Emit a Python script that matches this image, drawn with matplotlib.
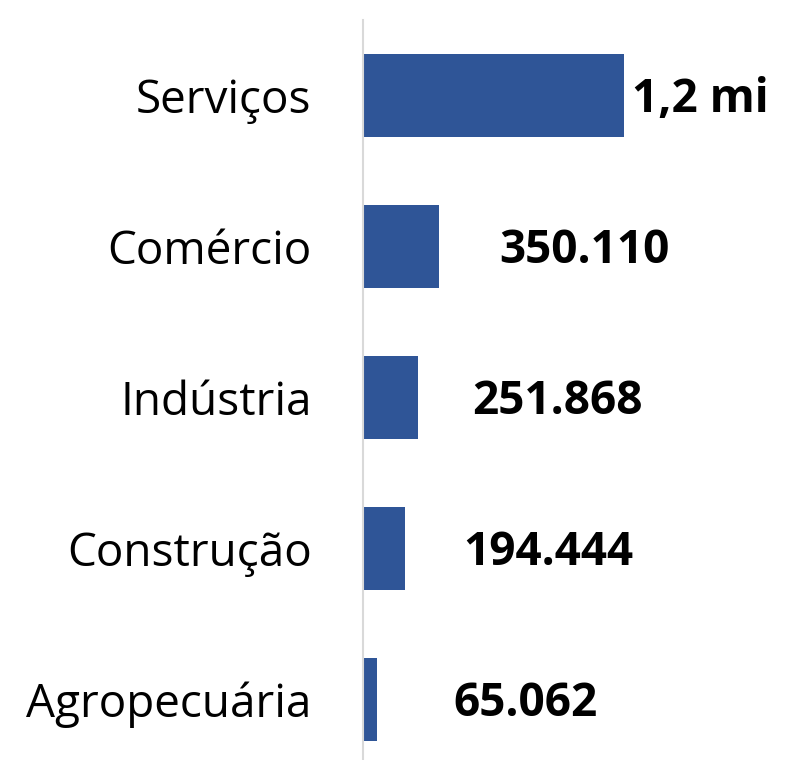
import numpy as np
import matplotlib.pyplot as plt

# sector data
sectors = ['Serviços', 'Comércio', 'Indústria', 'Construção', 'Agropecuária']
values = np.array([1200000, 350110, 251868, 194444, 65062])
value_labels = ['1,2 mi', '350.110', '251.868', '194.444', '65.062']

# label offsets from bar end (pixels)
label_dx = [8, 60, 54, 58, 76]

plt.rcParams['font.family'] = ['Open Sans', 'DejaVu Sans']

fig = plt.figure(figsize=(7.98, 7.6), dpi=100)
ax = fig.add_axes([363 / 798, -15 / 760, 420 / 798, 755 / 760])

y = np.arange(len(sectors))
ax.barh(y, values, height=0.55, color='#2F5597')
ax.set_ylim(len(sectors) - 0.5, -0.5)
ax.set_xlim(0, values.max() * 420 / 261)

ax.set_yticks(y)
ax.set_yticklabels(sectors, fontsize=33)
ax.tick_params(axis='y', length=0, pad=37)
ax.set_xticks([])

for s in ['top', 'right', 'bottom']:
    ax.spines[s].set_visible(False)
ax.spines['left'].set_color('#D9D9D9')
ax.spines['left'].set_linewidth(1.5)

for yi, v, lab, dx in zip(y, values, value_labels, label_dx):
    ax.annotate(lab, (v, yi), xytext=(dx, -4), textcoords='offset pixels',
                ha='left', va='center', fontsize=33, fontweight='bold',
                annotation_clip=False)

fig.savefig('out.png', dpi=100)
